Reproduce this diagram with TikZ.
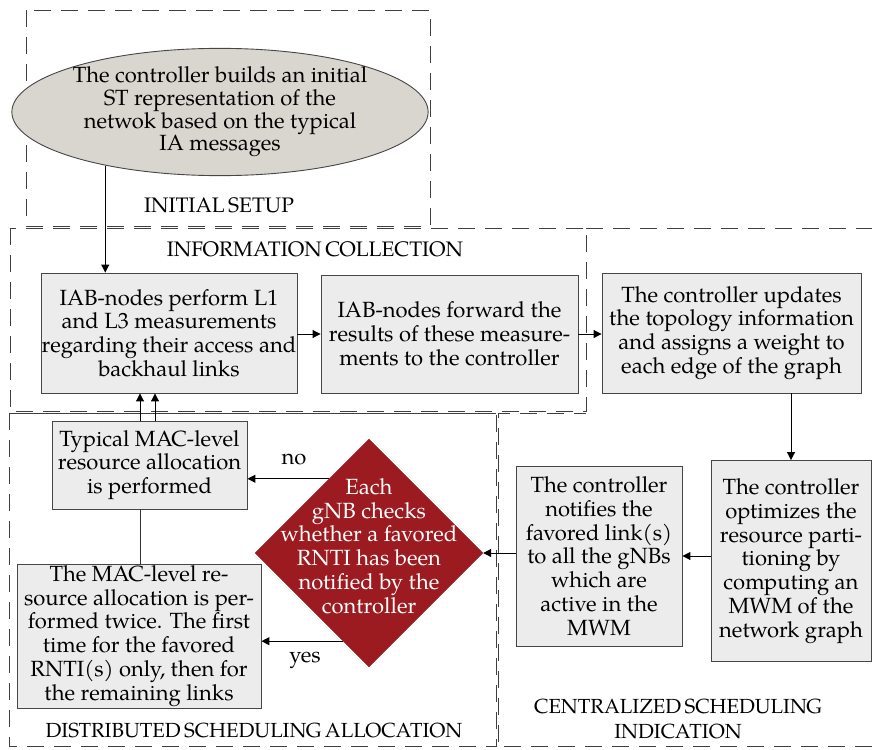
\documentclass[tikz,border=0pt]{standalone}
\usepackage{fontspec}
\setmainfont{TeX Gyre Pagella}
\usetikzlibrary{shapes.geometric,arrows.meta,calc}
\definecolor{boxfill}{RGB}{236,236,236}
\definecolor{ellfill}{RGB}{216,214,206}
\definecolor{decred}{RGB}{156,27,32}
\definecolor{edgegray}{RGB}{70,70,70}
\newcommand\wsp{\hspace{3.5pt}}
\begin{document}
\begin{tikzpicture}[x=1pt,y=-1pt,
  font=\fontsize{22}{23.8}\selectfont,
  stepbox/.style={draw=edgegray, fill=boxfill, line width=0.9pt, align=center, inner sep=0pt},
  startell/.style={ellipse, draw=edgegray, fill=ellfill, line width=0.9pt, align=center, inner sep=0pt,
                   minimum width=384pt, minimum height=120pt, font=\fontsize{22}{22.6}\selectfont},
  decision/.style={diamond, draw=decred, fill=decred, inner sep=0pt, minimum width=228pt, minimum height=228pt},
  dectext/.style={align=center, text=white, inner sep=0pt},
  region/.style={draw=black!75, line width=0.9pt, dash pattern=on 17pt off 10pt},
  regionlabel/.style={align=center, inner sep=0pt, font=\fontsize{21}{25}\selectfont},
  smalllabel/.style={regionlabel, font=\fontsize{20.4}{25}\selectfont},
  arr/.style={draw=black, line width=1pt, -{Triangle[length=8pt,width=8pt]}},
  plainline/.style={draw=black!80, line width=1pt}
]
\useasboundingbox (0,0) rectangle (872,749);

% ---- dashed regions
\draw[region] (26,10) rectangle (430,226);
\draw[region] (10,228) rectangle (586,411);
\draw[region] (9,413) rectangle (496,746);
\draw[draw=black!75, line width=0.9pt] (9,413) -- (496,413);
\draw[region] (586,228) -- (872,228);
\draw[region] (872,746) -- (498,746) -- (498,413) -- (586,413);

% ---- region titles
\node[regionlabel] (lblinit) at (219,205) {INITIAL\wsp SETUP};
\node[regionlabel] (lblinfo) at (315,249) {INFORMATION\wsp COLLECTION};
\node[smalllabel] (lbldist) at (254,730) {DISTRIBUTED\wsp SCHEDULING\wsp ALLOCATION};
\node[smalllabel] (lblcent) at (678,719) {CENTRALIZED\wsp SCHEDULING\\INDICATION};

% ---- nodes
\node[startell] (ell) at (220,112) {The controller builds an initial\\ST representation of the\\netwok based on the typical\\IA messages};

\node[stepbox, minimum width=256pt, minimum height=120pt] (meas) at (169,333)
  {IAB-nodes perform L1\\and L3 measurements\\regarding their access and\\backhaul links};
\node[stepbox, minimum width=257pt, minimum height=118pt] (fwd) at (449.5,334)
  {IAB-nodes forward the\\results of these measure-\\ments to the controller};
\node[stepbox, minimum width=259pt, minimum height=120pt] (upd) at (731.5,333)
  {The controller updates\\the topology information\\and assigns a weight to\\each edge of the graph};
\node[stepbox, minimum width=160pt, minimum height=201pt] (opt) at (791,561)
  {The controller\\optimizes the\\resource parti-\\tioning by\\computing an\\MWM of the\\network graph};
\node[stepbox, minimum width=166pt, minimum height=180pt] (notif) at (599,556)
  {The controller\\notifies the\\favored link(s)\\to all the gNBs\\which are\\active in the\\MWM};

\node[decision] (dec) at (369,553) {};
\node[dectext] (dectxt) at (369,546)
  {Each\\gNB checks\\whether a favored\\RNTI has been\\notified by the\\controller};

\node[stepbox, minimum width=195pt, minimum height=88pt] (typ) at (149.5,465)
  {Typical MAC-level\\resource allocation\\is performed};
\node[stepbox, minimum width=244pt, minimum height=144pt] (twice) at (139,636)
  {The MAC-level re-\\source allocation is per-\\formed twice. The first\\time for the favored\\RNTI(s) only, then for\\the remaining links};

% ---- connectors
\draw[arr] (ell.205) -- (ell.205 |- meas.north);
\draw[arr] (meas.east |- fwd.west) -- (fwd.west);
\draw[arr] (fwd.east) -- (fwd.east -| upd.west);
\draw[arr] (opt.north |- upd.south) -- (opt.north);
\draw[arr] (notif.east -| opt.west) -- (notif.east);
\draw[arr] (notif.west |- dec.east) -- (dec.east);

\coordinate (noend) at ($(dec.north)!0.35!(dec.west)$);
\coordinate (yesend) at ($(dec.south)!0.228!(dec.west)$);
\draw[arr] (noend) -- (noend -| typ.east);
\draw[arr] (yesend) -- (yesend -| twice.east);
\node[inner sep=0pt] (nolbl) at (294,460) {no};
\node[inner sep=0pt] (yeslbl) at (305,660) {yes};

\draw[plainline] (twice.north -| 140,0) -- (typ.south -| 140,0);
\draw[arr] (typ.north -| 140,0) -- (meas.south -| 140,0);
\draw[arr] (typ.north -| 155,0) -- (meas.south -| 155,0);
\end{tikzpicture}
\end{document}
